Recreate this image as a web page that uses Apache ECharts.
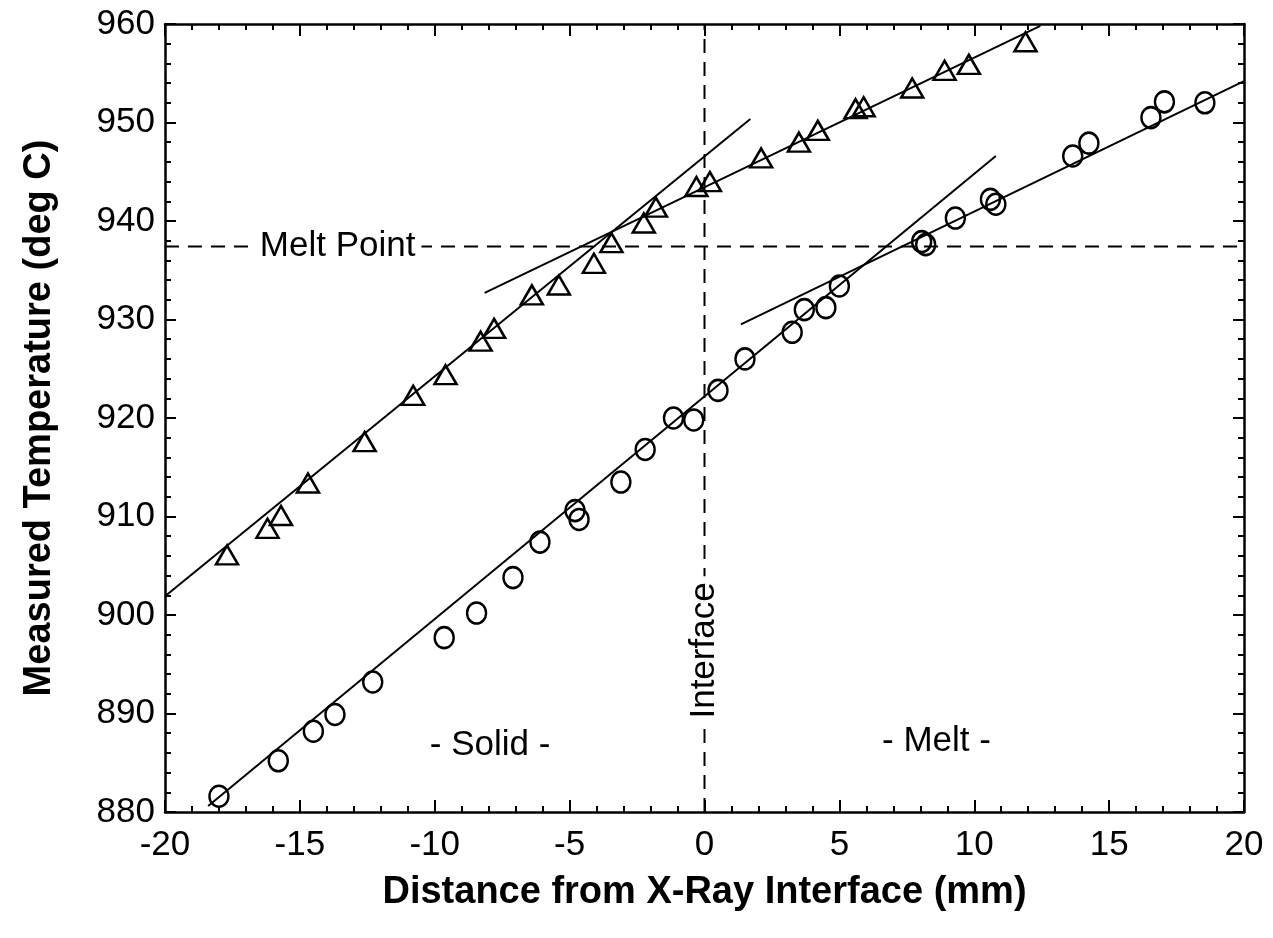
<!DOCTYPE html>
<html>
<head>
<meta charset="utf-8">
<script src="https://cdn.jsdelivr.net/npm/echarts@6/dist/echarts.min.js"></script>
<style>
html,body{margin:0;padding:0;background:#fff;}
#chart{width:1273px;height:938px;}
</style>
</head>
<body>
<div id="chart"></div>
<script>
// ---- data ----
const triangleX = [-17.7,-16.2,-15.7,-14.7,-12.6,-10.8,-9.6,-8.3,-7.8,-6.4,-5.4,-4.1,-3.45,-2.25,-1.8,-0.3,0.2,2.1,3.5,4.2,5.6,5.9,7.7,8.9,9.8,11.9];
const triangleY = [906.1,908.8,910.1,913.4,917.6,922.3,924.4,927.8,929.1,932.5,933.5,935.7,937.8,939.8,941.4,943.5,944.0,946.4,948.0,949.2,951.4,951.6,953.5,955.3,955.9,958.2];
const circleX = [-18.0,-15.8,-14.5,-13.7,-12.3,-9.65,-8.45,-7.1,-6.1,-4.8,-4.65,-3.1,-2.2,-1.15,-0.4,0.5,1.5,3.25,3.7,4.5,5.0,8.05,8.2,9.3,10.6,10.8,13.65,14.25,16.55,17.05,18.55];
const circleY = [881.6,885.2,888.2,889.9,893.2,897.7,900.2,903.8,907.4,910.6,909.7,913.5,916.8,920.0,919.8,922.8,926.0,928.7,931.0,931.2,933.4,937.9,937.6,940.3,942.2,941.7,946.6,947.9,950.5,952.1,952.0];
// fitted lines (end points)
const triSolidFit = [[-20, 901.9], [1.7, 950.35]];
const triMeltFit = [[-8.15, 932.7], [12.45, 959.8]];
const cirSolidFit = [[-18.4, 880.6], [10.8, 946.6]];
const cirMeltFit = [[1.35, 929.5], [20, 954.2]];
// reference lines
const meltPoint = 937.4;
const meltPointLine = [[-20, meltPoint], [20, meltPoint]];
const interfaceLine = [[0, 880], [0, 960]];
// annotations
const annotations = [
  {text: 'Melt Point', x: -13.6, y: meltPoint, rotate: 0},
  {text: 'Interface', x: 0, y: 896.4, rotate: 90},
  {text: '- Solid -', x: -7.95, y: 886.8, rotate: 0},
  {text: '- Melt -', x: 8.6, y: 887.2, rotate: 0}
];
const xRange = {min: -20, max: 20, interval: 5};
const yRange = {min: 880, max: 960, interval: 10};
const xTitle = 'Distance from X-Ray Interface (mm)';
const yTitle = 'Measured Temperature (deg C)';

// ---- chart ----
const FONT = 'Liberation Sans, Arial, Helvetica, sans-serif';
const chart = echarts.init(document.getElementById('chart'), null, {renderer: 'canvas'});
const axisLine = {show: true, onZero: false, lineStyle: {color: '#000', width: 2.5}};
function xAx(pos, labels) {
  return {
    type: 'value', position: pos, min: xRange.min, max: xRange.max, interval: xRange.interval,
    axisLine: axisLine,
    axisTick: {show: true, inside: true, length: 12, lineStyle: {color: '#000', width: 2}},
    minorTick: {show: true, splitNumber: 5, length: 6, lineStyle: {color: '#000', width: 2}},
    splitLine: {show: false}, minorSplitLine: {show: false},
    axisLabel: {show: labels, margin: 16, color: '#000', fontSize: 35, fontFamily: FONT},
    name: labels ? xTitle : '', nameLocation: 'middle', nameGap: 62,
    nameTextStyle: {color: '#000', fontSize: 38, fontWeight: 'bold', fontFamily: FONT}
  };
}
function yAx(pos, labels) {
  return {
    type: 'value', position: pos, min: yRange.min, max: yRange.max, interval: yRange.interval,
    axisLine: axisLine,
    axisTick: {show: true, inside: true, length: 11, lineStyle: {color: '#000', width: 2}},
    minorTick: {show: true, splitNumber: 5, length: 6, lineStyle: {color: '#000', width: 2}},
    splitLine: {show: false}, minorSplitLine: {show: false},
    axisLabel: {show: labels, margin: 10, color: '#000', fontSize: 35, fontFamily: FONT},
    name: labels ? yTitle : '', nameLocation: 'middle', nameGap: 106,
    nameTextStyle: {color: '#000', fontSize: 38, fontWeight: 'bold', fontFamily: FONT}
  };
}
function lineSeries(data, dashed) {
  return {
    type: 'line', data: data, showSymbol: false, symbol: 'none', silent: true, z: 2,
    lineStyle: {color: '#000', width: 2, type: dashed ? [14, 9] : 'solid'}
  };
}
const hollow = {color: 'rgba(255,255,255,0)', borderColor: '#000', borderWidth: 2.5, opacity: 1};
chart.setOption({
  animation: false,
  backgroundColor: '#fff',
  grid: {left: 165, right: 29, top: 24, bottom: 126, outerBoundsMode: 'none'},
  xAxis: [xAx('bottom', true), xAx('top', false)],
  yAxis: [yAx('left', true), yAx('right', false)],
  series: [
    lineSeries(meltPointLine, true),
    lineSeries(interfaceLine, true),
    lineSeries(triSolidFit, false),
    lineSeries(triMeltFit, false),
    lineSeries(cirSolidFit, false),
    lineSeries(cirMeltFit, false),
    {
      type: 'scatter', symbol: 'triangle', symbolSize: [22, 19], z: 3,
      data: triangleX.map((x, i) => [x, triangleY[i]]), itemStyle: hollow
    },
    {
      type: 'scatter', symbol: 'circle', symbolSize: [19, 21], z: 3,
      data: circleX.map((x, i) => [x, circleY[i]]), itemStyle: hollow
    },
    {
      type: 'scatter', symbolSize: 1, z: 5, silent: true,
      itemStyle: {color: 'rgba(0,0,0,0)', opacity: 1},
      data: annotations.map(a => ({
        value: [a.x, a.y],
        label: {
          show: true, position: 'inside', formatter: a.text, rotate: a.rotate,
          color: '#000', fontSize: 35, fontFamily: FONT, opacity: 1,
          backgroundColor: '#fff', padding: [0, 6]
        }
      }))
    }
  ]
});
</script>
</body>
</html>
